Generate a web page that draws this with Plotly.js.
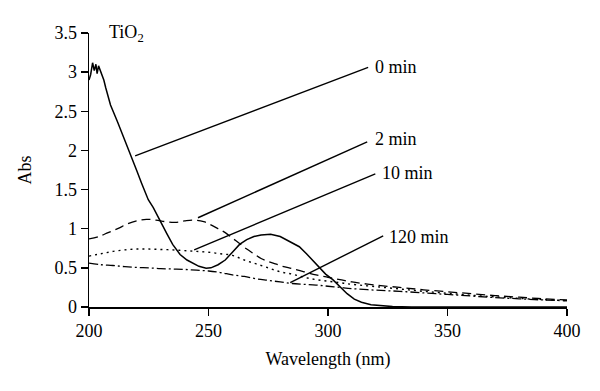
<!DOCTYPE html>
<html>
<head>
<meta charset="utf-8">
<script src="https://cdn.plot.ly/plotly-3.0.1.min.js"></script>
<style>html,body{margin:0;padding:0;background:#fff;}#chart{width:600px;height:391px;}</style>
</head>
<body>
<div id="chart"></div>
<script>
// Wavelength (nm) and absorbance for each irradiation time
const x0 = [200, 200.7, 201.5, 202.2, 202.9, 203.4, 204, 204.8, 205.5, 206.2, 207, 208, 209, 212, 216, 220, 222, 224.8, 226.9, 229, 232.5, 235, 238.1, 241, 243.7, 246, 249, 251, 254, 257, 260, 263, 266, 269, 272, 276, 280, 284, 288, 291, 293.5, 296, 299, 302, 305, 308, 311, 314, 318, 322, 327, 335, 360, 400];
const y0 = [2.9, 2.97, 3.12, 3.02, 3.1, 2.98, 3.08, 3.02, 2.95, 2.9, 2.8, 2.68, 2.58, 2.36, 2.06, 1.74, 1.58, 1.37, 1.27, 1.14, 0.94, 0.8, 0.67, 0.6, 0.56, 0.52, 0.495, 0.5, 0.54, 0.6, 0.7, 0.8, 0.86, 0.9, 0.92, 0.93, 0.9, 0.84, 0.77, 0.68, 0.6, 0.51, 0.42, 0.35, 0.26, 0.17, 0.1, 0.06, 0.03, 0.015, 0.005, 0, 0, 0];

const x2 = [200, 204, 208, 212, 216, 220, 224, 228, 232, 236, 240, 244, 248, 251, 254, 257, 260, 263, 266, 269, 272, 275, 278, 281, 285, 290, 295, 300, 305, 310, 320, 330, 340, 350, 360, 370, 380, 390, 400];
const y2 = [0.87, 0.9, 0.95, 1.0, 1.06, 1.1, 1.12, 1.11, 1.09, 1.08, 1.1, 1.11, 1.09, 1.05, 1.0, 0.95, 0.88, 0.81, 0.74, 0.68, 0.62, 0.58, 0.55, 0.52, 0.49, 0.45, 0.41, 0.38, 0.35, 0.32, 0.28, 0.25, 0.22, 0.195, 0.17, 0.145, 0.125, 0.105, 0.09];

const x10 = [200, 205, 210, 215, 220, 225, 230, 235, 240, 245, 250, 255, 260, 265, 270, 275, 280, 285, 290, 295, 300, 305, 310, 320, 330, 340, 350, 360, 370, 380, 390, 400];
const y10 = [0.65, 0.68, 0.71, 0.73, 0.74, 0.74, 0.735, 0.73, 0.72, 0.71, 0.7, 0.68, 0.66, 0.6, 0.55, 0.5, 0.45, 0.42, 0.38, 0.35, 0.33, 0.31, 0.29, 0.26, 0.23, 0.2, 0.175, 0.15, 0.13, 0.11, 0.095, 0.08];

const x120 = [200, 205, 210, 215, 220, 225, 230, 235, 240, 245, 250, 255, 260, 265, 270, 275, 280, 285, 290, 295, 300, 305, 310, 320, 330, 340, 350, 360, 370, 380, 390, 400];
const y120 = [0.56, 0.54, 0.53, 0.515, 0.505, 0.5, 0.49, 0.485, 0.48, 0.47, 0.46, 0.44, 0.41, 0.39, 0.36, 0.34, 0.32, 0.3, 0.29, 0.28, 0.265, 0.25, 0.235, 0.215, 0.2, 0.18, 0.16, 0.14, 0.12, 0.105, 0.09, 0.08];

const seriesLabels = ["0 min", "2 min", "10 min", "120 min"];

const FONT = "Liberation Serif, Times New Roman, serif";

const traces = [
  {x: x0, y: y0, name: seriesLabels[0], mode: "lines", line: {color: "#000", width: 1.5}},
  {x: x2, y: y2, name: seriesLabels[1], mode: "lines", line: {color: "#000", width: 1.3, dash: "9px,5px", shape: "spline"}},
  {x: x10, y: y10, name: seriesLabels[2], mode: "lines", line: {color: "#000", width: 1.4, dash: "2px,4px", shape: "spline"}},
  {x: x120, y: y120, name: seriesLabels[3], mode: "lines", line: {color: "#000", width: 1.3, dash: "9px,3px,2px,3px", shape: "spline"}}
];

// pointer lines: [x start, y start, x end, y end] in data units
const pointers = [
  [219.3, 1.93, 316.8, 3.06],
  [245.6, 1.14, 316.4, 2.11],
  [244.0, 0.73, 319.8, 1.70],
  [284.2, 0.31, 323.1, 0.91]
];
const labelPos = [[318.9, 3.07], [318.9, 2.15], [321.9, 1.71], [324.8, 0.90]];

const shapes = pointers.map(p => ({
  type: "line", xref: "x", yref: "y", x0: p[0], y0: p[1], x1: p[2], y1: p[3],
  line: {color: "#000", width: 1.4}
}));

const annotations = seriesLabels.map((t, i) => ({
  x: labelPos[i][0], y: labelPos[i][1], xref: "x", yref: "y", text: t,
  showarrow: false, xanchor: "left", yanchor: "middle",
  font: {family: FONT, size: 18, color: "#000"}
}));
annotations.push({
  x: 207.5, y: 3.5, xref: "x", yref: "y", text: "TiO<sub>2</sub>",
  showarrow: false, xanchor: "left", yanchor: "middle",
  font: {family: FONT, size: 18, color: "#000"}
});

const layout = {
  width: 600, height: 391,
  margin: {l: 89, r: 33, t: 33, b: 84},
  paper_bgcolor: "#fff", plot_bgcolor: "#fff",
  showlegend: false,
  font: {family: FONT, size: 18, color: "#000"},
  xaxis: {
    range: [200, 400], dtick: 50, tick0: 200,
    showline: true, linecolor: "#000", linewidth: 1.5,
    ticks: "outside", ticklen: 7, tickwidth: 1.5, tickcolor: "#000",
    showgrid: false, zeroline: false,
    tickfont: {family: FONT, size: 18},
    title: {text: "Wavelength (nm)", font: {family: FONT, size: 18}, standoff: 12}
  },
  yaxis: {
    range: [0, 3.5], dtick: 0.5, tick0: 0,
    showline: true, linecolor: "#000", linewidth: 1.5,
    ticks: "outside", ticklen: 7, tickwidth: 1.5, tickcolor: "#000",
    showgrid: false, zeroline: false,
    tickfont: {family: FONT, size: 18},
    title: {text: "Abs", font: {family: FONT, size: 18}, standoff: 18}
  },
  shapes: shapes,
  annotations: annotations
};

Plotly.newPlot("chart", traces, layout, {staticPlot: true, displayModeBar: false});
</script>
</body>
</html>
